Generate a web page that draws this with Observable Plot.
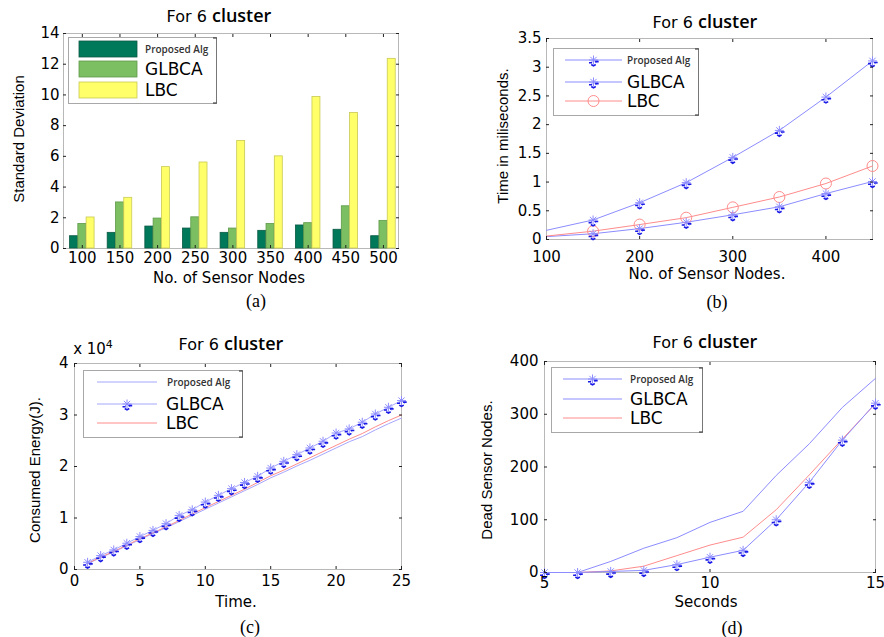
<!DOCTYPE html>
<html>
<head>
<meta charset="utf-8">
<script src="https://cdn.jsdelivr.net/npm/d3@7"></script>
<script src="https://cdn.jsdelivr.net/npm/@observablehq/plot@0.6"></script>
<style>
  html, body { margin: 0; padding: 0; background: #fff; }
  #root { position: relative; width: 884px; height: 637px; overflow: hidden; background: #fff; }
  #root svg { overflow: visible; }
</style>
</head>
<body>
<div id="root"></div>
<script>
// ---------------- DATA ----------------
const seriesNames = ["Proposed Alg", "GLBCA", "LBC"];

// (a) Standard deviation vs number of sensor nodes
const nodesA = [100, 150, 200, 250, 300, 350, 400, 450, 500];
const proposedA = [0.8, 1.02, 1.43, 1.3, 1.02, 1.15, 1.5, 1.22, 0.8];
const glbcaA = [1.6, 3.0, 1.95, 2.03, 1.3, 1.6, 1.65, 2.75, 1.8];
const lbcA = [2.02, 3.3, 5.3, 5.6, 7.0, 6.0, 9.87, 8.82, 12.35];
const yTicksA = [0, 2, 4, 6, 8, 10, 12, 14];

// (b) Time in milliseconds vs number of sensor nodes
const nodesB = [100, 150, 200, 250, 300, 350, 400, 450];
const proposedB = [0.05, 0.1, 0.19, 0.3, 0.43, 0.57, 0.8, 1.01];
const glbcaB = [0.16, 0.34, 0.64, 0.99, 1.43, 1.9, 2.48, 3.11];
const lbcB = [0.06, 0.145, 0.26, 0.38, 0.56, 0.74, 0.975, 1.28];
const xTicksB = [100, 200, 300, 400];
const yTicksB = [0, 0.5, 1, 1.5, 2, 2.5, 3, 3.5];

// (c) Consumed energy (x 10^4 J) vs time
const timeC = [1, 2, 3, 4, 5, 6, 7, 8, 9, 10, 11, 12, 13, 14, 15, 16, 17, 18, 19, 20, 21, 22, 23, 24, 25];
const proposedC = [0.11, 0.23, 0.34, 0.46, 0.58, 0.7, 0.81, 0.93, 1.05, 1.17, 1.29, 1.41, 1.53, 1.65, 1.78, 1.89, 2.01, 2.12, 2.24, 2.36, 2.48, 2.58, 2.71, 2.83, 2.94];
const glbcaC = [0.14, 0.27, 0.38, 0.51, 0.64, 0.76, 0.89, 1.05, 1.16, 1.31, 1.44, 1.57, 1.69, 1.81, 1.97, 2.1, 2.23, 2.36, 2.49, 2.65, 2.73, 2.86, 3.02, 3.15, 3.28];
const lbcC = [0.12, 0.24, 0.35, 0.47, 0.6, 0.71, 0.83, 0.95, 1.08, 1.2, 1.32, 1.44, 1.56, 1.69, 1.82, 1.93, 2.05, 2.17, 2.29, 2.41, 2.53, 2.64, 2.77, 2.89, 3.0];
const xTicksC = [0, 5, 10, 15, 20, 25];
const yTicksC = [0, 1, 2, 3, 4];

// (d) Dead sensor nodes vs seconds
const secD = [5, 6, 7, 8, 9, 10, 11, 12, 13, 14, 15];
const proposedD = [0, 0, 2, 4, 15, 29, 42, 100, 171, 251, 321];
const glbcaD = [0, 0, 21, 46, 66, 95, 116, 184, 244, 313, 368];
const lbcD = [0, 0, 3, 12, 32, 52, 67, 119, 185, 253, 320];
const xTicksD = [5, 10, 15];
const yTicksD = [0, 100, 200, 300, 400];

// ---------------- STYLE ----------------
const barColors = ["#00785a", "#7cbf62", "#ffff6a"];
const barStrokes = ["#0a5a44", "#5f9a4a", "#c9c955"];
const blueLine = "#8c8cff";
const paleBlue = "#a6a6ff";
const redLine = "#ff8c8c";
const darkBlue = "#1a1ae6";

const starSym = {
  draw(c, size) {
    const r = Math.sqrt(size / Math.PI), k = r * 0.7;
    c.moveTo(-r, 0); c.lineTo(r, 0);
    c.moveTo(0, -r); c.lineTo(0, r);
    c.moveTo(-k, -k); c.lineTo(k, k);
    c.moveTo(-k, k); c.lineTo(k, -k);
  }
};
const dashSym = {
  draw(c, size) {
    const r = Math.sqrt(size / Math.PI);
    c.moveTo(-1.0 * r, 0.6 * r); c.lineTo(-0.3 * r, 0.6 * r);
    c.moveTo(0.35 * r, 0.35 * r); c.lineTo(1.15 * r, 0.35 * r);
    c.moveTo(-0.5 * r, 1.0 * r); c.lineTo(0, 1.3 * r); c.lineTo(0.5 * r, 1.0 * r);
  }
};

const root = document.getElementById("root");
const plotStyle = { fontFamily: "DejaVu Sans, sans-serif", fontSize: "15px", color: "#000", background: "none", overflow: "visible" };

function place(el, left, top) {
  el.style.position = "absolute";
  el.style.left = left + "px";
  el.style.top = top + "px";
  root.appendChild(el);
}

function axes(xt, yt, xpad, ypad, xfmt, yfmt) {
  const blank = () => "";
  return [
    Plot.axisX(xt, { anchor: "bottom", tickSize: 0, tickPadding: xpad, label: null, tickFormat: xfmt }),
    Plot.axisX(xt, { anchor: "bottom", tickSize: -3, tickFormat: blank, label: null, stroke: "#222" }),
    Plot.axisX(xt, { anchor: "top", tickSize: -3, tickFormat: blank, label: null, stroke: "#222" }),
    Plot.axisY(yt, { anchor: "left", tickSize: 0, tickPadding: ypad, label: null, tickFormat: yfmt }),
    Plot.axisY(yt, { anchor: "left", tickSize: -3, tickFormat: blank, label: null, stroke: "#222" }),
    Plot.axisY(yt, { anchor: "right", tickSize: -3, tickFormat: blank, label: null, stroke: "#222" })
  ];
}

function starMarks(data, x, y) {
  return [
    Plot.dot(data, { x, y, symbol: starSym, r: 4.5, stroke: blueLine, fill: "none", strokeWidth: 1 }),
    Plot.dot(data, { x, y, symbol: dashSym, r: 4.5, stroke: darkBlue, fill: "none", strokeWidth: 1.6 })
  ];
}

// ---------------- (a) ----------------
const barsA = [];
nodesA.forEach((n, i) => {
  barsA.push({ node: n, series: "Proposed Alg", value: proposedA[i] });
  barsA.push({ node: n, series: "GLBCA", value: glbcaA[i] });
  barsA.push({ node: n, series: "LBC", value: lbcA[i] });
});
const offA = { "Proposed Alg": -11, "GLBCA": 0, "LBC": 11 };
const hwA = 5.3;
const chartA = Plot.plot({
  width: 420, height: 290,
  marginTop: 33, marginLeft: 63, marginRight: 22, marginBottom: 42,
  style: plotStyle,
  x: { type: "linear", domain: [75, 520] },
  y: { domain: [0, 14] },
  color: { domain: seriesNames, range: barColors },
  marks: [
    Plot.frame({ stroke: "#b8b8b8" }),
    Plot.rectY(barsA, {
      x1: d => d.node + offA[d.series] - hwA,
      x2: d => d.node + offA[d.series] + hwA,
      y: "value",
      fill: "series",
      stroke: d => barStrokes[seriesNames.indexOf(d.series)],
      strokeWidth: 0.8
    }),
    ...axes(nodesA, yTicksA, 4, 4, d => String(d), d => String(d))
  ]
});
place(chartA, 0, 0);

// ---------------- (b) ----------------
const dataB = nodesB.map((n, i) => ({ n, prop: proposedB[i], glbca: glbcaB[i], lbc: lbcB[i] }));
const markB = dataB.slice(1);
const chartB = Plot.plot({
  width: 444, height: 290,
  marginTop: 38, marginLeft: 106, marginRight: 12, marginBottom: 51,
  style: plotStyle,
  x: { domain: [100, 450] },
  y: { domain: [0, 3.5] },
  marks: [
    Plot.frame({ stroke: "#b8b8b8" }),
    Plot.line(dataB, { x: "n", y: "glbca", stroke: blueLine, strokeWidth: 1 }),
    Plot.line(dataB, { x: "n", y: "prop", stroke: blueLine, strokeWidth: 1 }),
    Plot.line(dataB, { x: "n", y: "lbc", stroke: redLine, strokeWidth: 1 }),
    Plot.dot(markB, { x: "n", y: "lbc", r: 5.5, stroke: redLine, fill: "none", strokeWidth: 1 }),
    ...starMarks(markB, "n", "glbca"),
    ...starMarks(markB, "n", "prop"),
    ...axes(xTicksB, yTicksB, 12, 5, d => String(d), d => String(d))
  ]
});
place(chartB, 440, 0);

// ---------------- (c) ----------------
const dataC = timeC.map((t, i) => ({ t, prop: proposedC[i], glbca: glbcaC[i], lbc: lbcC[i] }));
const chartC = Plot.plot({
  width: 420, height: 317,
  marginTop: 43, marginLeft: 74, marginRight: 19, marginBottom: 68,
  style: plotStyle,
  x: { domain: [0, 25] },
  y: { domain: [0, 4] },
  marks: [
    Plot.frame({ stroke: "#b8b8b8" }),
    Plot.line(dataC, { x: "t", y: "prop", stroke: paleBlue, strokeWidth: 1 }),
    Plot.line(dataC, { x: "t", y: "lbc", stroke: redLine, strokeWidth: 1 }),
    Plot.line(dataC, { x: "t", y: "glbca", stroke: paleBlue, strokeWidth: 1 }),
    ...starMarks(dataC, "t", "glbca"),
    ...axes(xTicksC, yTicksC, 6, 6, d => String(d), d => String(d))
  ]
});
place(chartC, 0, 320);

// ---------------- (d) ----------------
const dataD = secD.map((s, i) => ({ s, prop: proposedD[i], glbca: glbcaD[i], lbc: lbcD[i] }));
const chartD = Plot.plot({
  width: 444, height: 317,
  marginTop: 41, marginLeft: 104, marginRight: 9, marginBottom: 65,
  style: plotStyle,
  x: { domain: [5, 15] },
  y: { domain: [0, 400] },
  marks: [
    Plot.frame({ stroke: "#b8b8b8" }),
    Plot.line(dataD, { x: "s", y: "glbca", stroke: blueLine, strokeWidth: 1 }),
    Plot.line(dataD, { x: "s", y: "lbc", stroke: redLine, strokeWidth: 1 }),
    Plot.line(dataD, { x: "s", y: "prop", stroke: blueLine, strokeWidth: 1 }),
    ...starMarks(dataD, "s", "prop"),
    ...axes(xTicksD, yTicksD, 5, 6, d => String(d), d => String(d))
  ]
});
place(chartD, 440, 320);

// ---------------- LEGENDS ----------------
function symPath(sym, r) {
  const p = d3.path();
  sym.draw(p, r * r * Math.PI);
  return p.toString();
}
function legend(left, top, w, h, rows) {
  const svg = d3.create("svg").attr("width", w + 2).attr("height", h + 2);
  svg.append("rect").attr("x", 0.5).attr("y", 0.5).attr("width", w).attr("height", h)
    .attr("fill", "#fff").attr("stroke", "#a8a8a8");
  svg.append("line").attr("x1", w + 0.5).attr("x2", w + 0.5).attr("y1", 0.5).attr("y2", h + 0.5).attr("stroke", "#777");
  svg.append("line").attr("x1", w - 3).attr("x2", w + 0.5).attr("y1", 1).attr("y2", 1).attr("stroke", "#222");
  svg.append("line").attr("x1", w - 3).attr("x2", w + 0.5).attr("y1", h).attr("y2", h).attr("stroke", "#222");
  rows.forEach(r => {
    if (r.swatch) {
      svg.append("rect").attr("x", r.x0).attr("y", r.y - 8).attr("width", r.x1 - r.x0).attr("height", 16)
        .attr("fill", r.swatch).attr("stroke", r.swStroke).attr("stroke-width", 0.8);
    } else {
      svg.append("line").attr("x1", r.x0).attr("x2", r.x1).attr("y1", r.y).attr("y2", r.y)
        .attr("stroke", r.color).attr("stroke-width", 1);
      const mx = (r.x0 + r.x1) / 2;
      if (r.marker === "star") {
        svg.append("path").attr("transform", `translate(${mx},${r.y})`).attr("d", symPath(starSym, 4.5))
          .attr("fill", "none").attr("stroke", blueLine);
        svg.append("path").attr("transform", `translate(${mx},${r.y})`).attr("d", symPath(dashSym, 4.5))
          .attr("fill", "none").attr("stroke", darkBlue).attr("stroke-width", 1.6);
      } else if (r.marker === "circle") {
        svg.append("circle").attr("cx", mx).attr("cy", r.y).attr("r", 5.5).attr("fill", "none").attr("stroke", redLine);
      }
    }
    const t = svg.append("text").attr("x", r.tx).attr("y", r.y).attr("dy", "0.35em").text(r.label);
    if (r.small) {
      t.attr("font-family", "Open Sans, sans-serif").attr("font-size", 10).attr("font-weight", 600).attr("fill", "#333");
    } else {
      t.attr("font-family", "DejaVu Sans, sans-serif").attr("font-size", 17).attr("fill", "#000");
    }
  });
  place(svg.node(), left, top);
}

legend(68, 37, 148, 66, [
  { y: 12, x0: 11, x1: 69, swatch: barColors[0], swStroke: barStrokes[0], tx: 77, label: seriesNames[0], small: true },
  { y: 32, x0: 11, x1: 69, swatch: barColors[1], swStroke: barStrokes[1], tx: 77, label: seriesNames[1] },
  { y: 53, x0: 11, x1: 69, swatch: barColors[2], swStroke: barStrokes[2], tx: 77, label: seriesNames[2] }
]);
legend(553, 48, 145, 67, [
  { y: 12, x0: 12, x1: 69, color: blueLine, marker: "star", tx: 74, label: seriesNames[0], small: true },
  { y: 34, x0: 12, x1: 69, color: blueLine, marker: "star", tx: 74, label: seriesNames[1] },
  { y: 53, x0: 12, x1: 69, color: redLine, marker: "circle", tx: 74, label: seriesNames[2] }
]);
legend(83, 370, 159, 67, [
  { y: 12, x0: 14, x1: 74, color: paleBlue, marker: null, tx: 84, label: seriesNames[0], small: true },
  { y: 34, x0: 14, x1: 74, color: paleBlue, marker: "star", tx: 83, label: seriesNames[1] },
  { y: 53, x0: 14, x1: 74, color: redLine, marker: null, tx: 83, label: seriesNames[2] }
]);
legend(551, 367, 151, 65, [
  { y: 12, x0: 12, x1: 71, color: blueLine, marker: "star", tx: 79, label: seriesNames[0], small: true },
  { y: 32, x0: 12, x1: 71, color: blueLine, marker: null, tx: 79, label: seriesNames[1] },
  { y: 51, x0: 12, x1: 71, color: redLine, marker: null, tx: 79, label: seriesNames[2] }
]);

// ---------------- TEXT ----------------
function label(html, cx, cy, css, rotate) {
  const d = document.createElement("div");
  d.innerHTML = html;
  d.style.cssText = `position:absolute;left:${cx}px;top:${cy}px;transform:translate(-50%,-50%)${rotate ? " rotate(-90deg)" : ""};white-space:nowrap;line-height:1;color:#000;` + css;
  root.appendChild(d);
}
const titleHTML = `<span style="font-family:'DejaVu Sans';font-size:16px">For 6 </span><span style="font-family:'Open Sans';font-weight:600;font-size:18px">cluster</span>`;
label(titleHTML, 219, 15, "");
label(titleHTML, 705, 21, "");
label(titleHTML, 231, 343, "");
label(titleHTML, 705, 341, "");

const axisCss = "font-family:'DejaVu Sans',sans-serif;font-size:15px;";
const yCss = "font-family:'Liberation Sans',sans-serif;font-size:15px;";
label("No. of Sensor Nodes", 229, 278, axisCss);
label("No. of Sensor Nodes.", 707, 274, axisCss);
label("Time.", 236, 602, axisCss);
label("Seconds", 706, 602, axisCss);

label("Standard Deviation", 18, 139, yCss, true);
label("Time in miliseconds.", 502, 136, yCss, true);
label("Consumed Energy(J).", 34, 470, yCss, true);
label("Dead Sensor Nodes.", 486, 470, yCss, true);

label("x 10<sup style='font-size:11px;vertical-align:6px'>4</sup>", 93, 348, axisCss);

const capCss = "font-family:'Liberation Serif',serif;font-size:18px;";
label("(a)", 256, 301, capCss);
label("(b)", 717, 302, capCss);
label("(c)", 250, 627, capCss);
label("(d)", 732, 628, capCss);
</script>
</body>
</html>
